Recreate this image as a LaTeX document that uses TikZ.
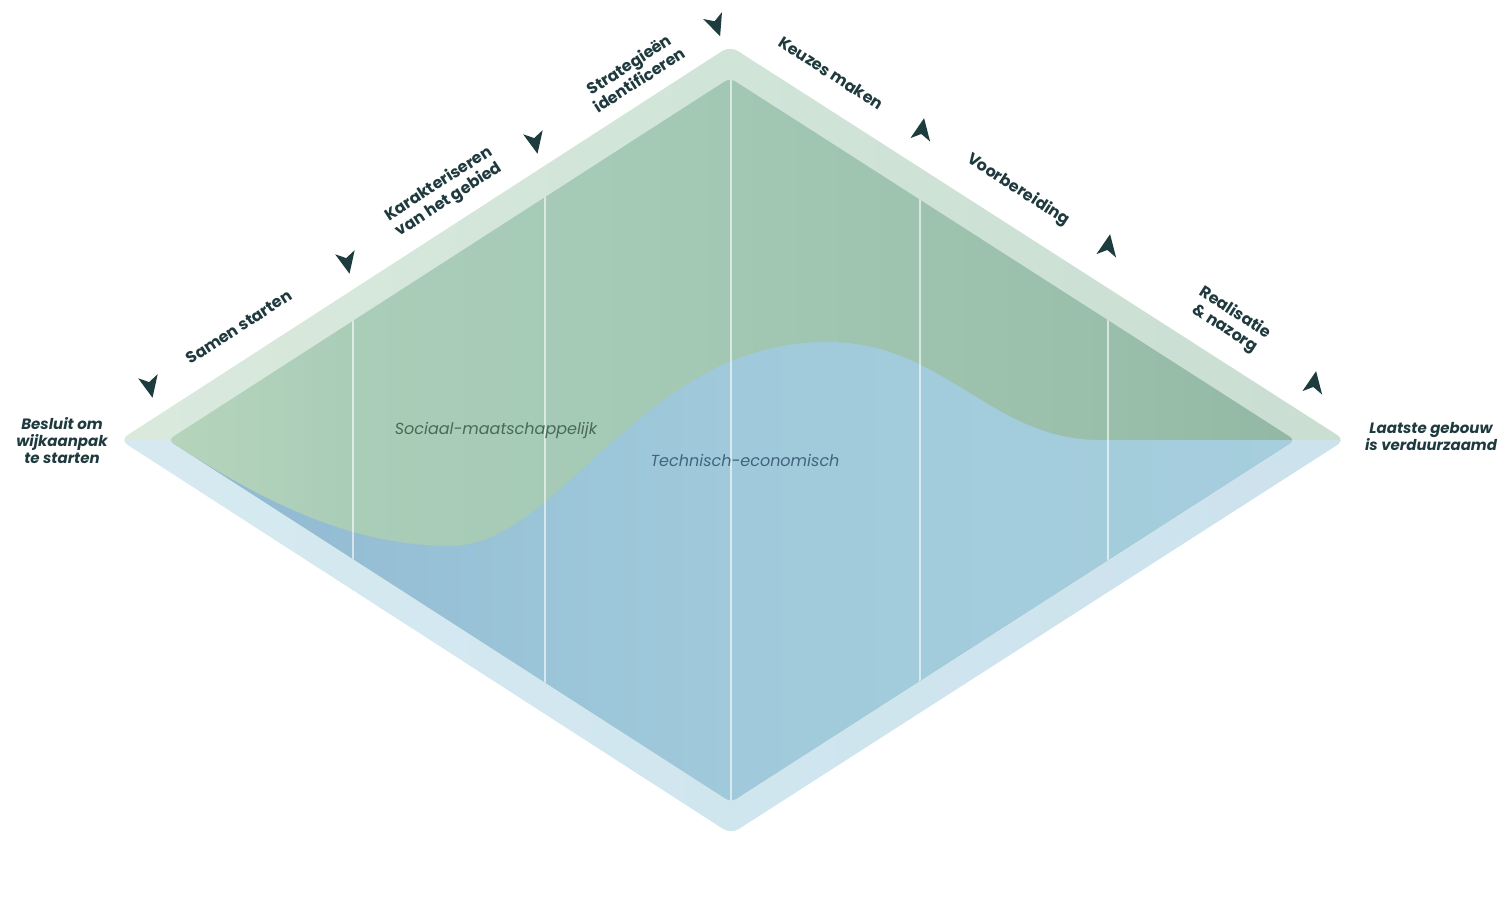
\documentclass[tikz,border=0pt]{standalone}
\usepackage{fontspec}
\setmainfont{Poppins}
\definecolor{labc}{HTML}{1F3A3E}
\definecolor{arrowc}{HTML}{1E3B3D}
\definecolor{socc}{HTML}{4A6957}
\definecolor{techc}{HTML}{42637C}
\definecolor{bg1}{HTML}{E4EEE1}
\definecolor{bg2}{HTML}{D0E4D8}
\definecolor{bg3}{HTML}{C5D7CC}
\definecolor{bb1}{HTML}{DDEDF3}
\definecolor{bb2}{HTML}{D0E6EF}
\definecolor{bb3}{HTML}{C8DDE9}
\definecolor{g1}{HTML}{D0E4C7}
\definecolor{g2}{HTML}{C4DCBF}
\definecolor{g3}{HTML}{AACDB8}
\definecolor{g4}{HTML}{A2C8B4}
\definecolor{g5}{HTML}{99BFAB}
\definecolor{g6}{HTML}{8CB19C}
\definecolor{g7}{HTML}{80A390}
\definecolor{u1}{HTML}{84ADCA}
\definecolor{u2}{HTML}{93BCD4}
\definecolor{u3}{HTML}{A0CADB}
\definecolor{u4}{HTML}{A6CEDD}
\definecolor{u5}{HTML}{BBD8E2}
\pgfdeclarehorizontalshading{bandgreen}{100bp}{color(0bp)=(bg1); color(50bp)=(bg2); color(100bp)=(bg3)}
\pgfdeclarehorizontalshading{bandblue}{100bp}{color(0bp)=(bb1); color(50bp)=(bb2); color(100bp)=(bb3)}
\pgfdeclarehorizontalshading{ingreen}{100bp}{color(0bp)=(g1); color(16bp)=(g2); color(33bp)=(g3); color(50bp)=(g4); color(67bp)=(g5); color(83bp)=(g6); color(100bp)=(g7)}
\pgfdeclarehorizontalshading{inblue}{100bp}{color(0bp)=(u1); color(30bp)=(u2); color(50bp)=(u3); color(75bp)=(u4); color(100bp)=(u5)}
\tikzset{
  edgelab/.style={font=\bfseries\fontsize{16}{18.5}\selectfont, text=labc, inner sep=0pt, align=center},
  endlab/.style={font=\bfseries\itshape\fontsize{15}{17}\selectfont, text=labc, inner sep=0pt, align=center},
  innerlab/.style={font=\itshape\fontsize{16}{18}\selectfont, inner sep=0pt},
  stagesep/.style={white, opacity=0.6, line width=1.3pt},
  arrowhd/.pic={\fill[arrowc] (12,0) -- (-10,10) -- (-4,0) -- (-10,-10) -- cycle;}
}
\begin{document}
\begin{tikzpicture}[x=1pt,y=-1pt]
\useasboundingbox (0,0) rectangle (1505,916);
\coordinate (OL) at (120,440);
\coordinate (OT) at (730,46);
\coordinate (OR) at (1345,440);
\coordinate (OB) at (731,834);
\coordinate (IL) at (168,440);
\coordinate (IT) at (730,78);
\coordinate (IR) at (1295,440);
\coordinate (IB) at (731,802);
% outer band
\begin{scope}
  \clip[rounded corners=9pt] (OL) -- (OT) -- (OR) -- (OB) -- cycle;
  \shade[shading=bandgreen] (120,0) rectangle (1345,440);
  \shade[shading=bandblue] (120,440) rectangle (1345,916);
\end{scope}
% inner diamond
\begin{scope}
  \clip[rounded corners=6pt] (IL) -- (IT) -- (IR) -- (IB) -- cycle;
  \shade[shading=ingreen] (168,0) rectangle (1295,916);
  \shade[shading=inblue] (168,440) .. controls (245,490) and (340,546) .. (450,546)
     .. controls (560,547) and (640,342) .. (827,342)
     .. controls (945,342) and (990,440) .. (1100,440) -- (1300,440) -- (IB) -- cycle;
  \foreach \x in {353,545,731,920,1108} \draw[stagesep] (\x,0) -- (\x,916);
\end{scope}
% arrows
\pic[rotate=-78] (a1) at (150,386) {arrowhd};
\pic[rotate=-78] (a2) at (347,262) {arrowhd};
\pic[rotate=-78] (a3) at (535,142) {arrowhd};
\pic[rotate=-70] (a4) at (716,25) {arrowhd};
\pic[rotate=80] (a5) at (922,130) {arrowhd};
\pic[rotate=80] (a6) at (1108,246) {arrowhd};
\pic[rotate=80] (a7) at (1314,383) {arrowhd};
% stage labels
\node[edgelab, rotate=32.8] (l1) at (239,327) {Samen starten};
\node[edgelab, rotate=32.8] (l2) at (444,192) {Karakteriseren\\van het gebied};
\node[edgelab, rotate=32.8] (l3) at (634,72) {Strategieën\\identificeren};
\node[edgelab, rotate=-32.8] (l4) at (831,73) {Keuzes maken};
\node[edgelab, rotate=-32.8] (l5) at (1018,190) {Voorbereiding};
\node[edgelab, rotate=-32.8] (l6) at (1230,321) {Realisatie\\\& nazorg};
% end labels
\node[endlab] (start) at (62,441) {Besluit om\\wijkaanpak\\te starten};
\node[endlab] (finish) at (1431,437) {Laatste gebouw\\is verduurzaamd};
% inner labels
\node[innerlab, text=socc] (soc) at (496,430) {Sociaal-maatschappelijk};
\node[innerlab, text=techc] (tech) at (745,460) {Technisch-economisch};
\end{tikzpicture}
\end{document}
